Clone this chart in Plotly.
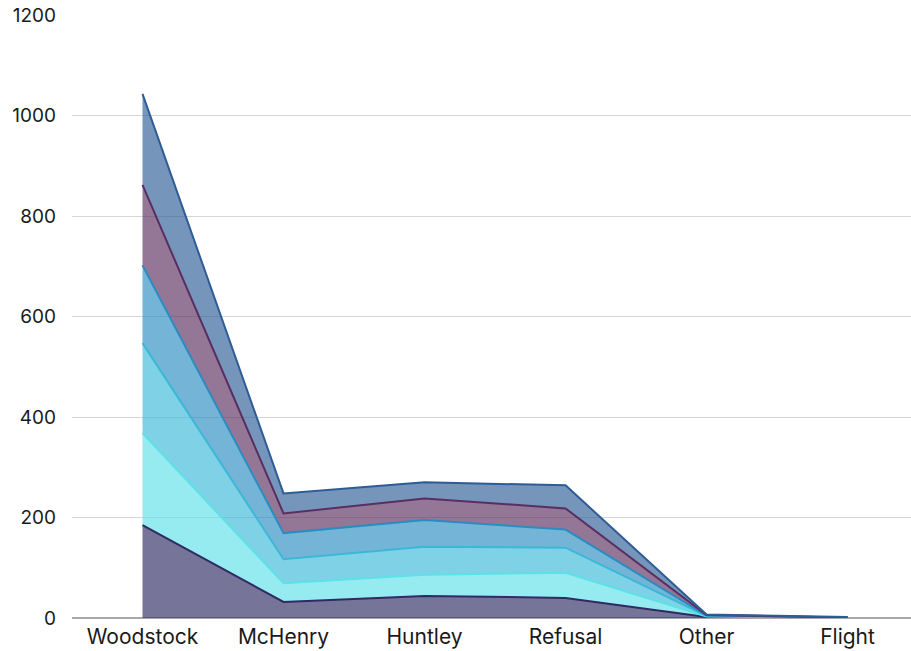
import plotly.graph_objects as go

# Categories along the x axis
categories = ["Woodstock", "McHenry", "Huntley", "Refusal", "Other", "Flight"]

# Stacked series values (bottom to top)
series_a = [185, 32, 44, 40, 2, 1]
series_b = [183, 37, 42, 50, 1, 0]
series_c = [179, 48, 56, 50, 1, 0]
series_d = [155, 52, 53, 36, 1, 0]
series_e = [160, 39, 43, 42, 1, 0]
series_f = [181, 40, 32, 46, 1, 1]

y_ticks = [0, 200, 400, 600, 800, 1000, 1200]

series = [
    ("A", series_a, (46, 42, 99)),
    ("B", series_b, (92, 225, 230)),
    ("C", series_c, (59, 184, 216)),
    ("D", series_d, (42, 140, 192)),
    ("E", series_e, (90, 46, 96)),
    ("F", series_f, (45, 92, 150)),
]

fig = go.Figure()
for name, vals, (r, g, b) in series:
    fig.add_trace(go.Scatter(
        x=categories,
        y=vals,
        name=name,
        mode="lines",
        stackgroup="one",
        line=dict(color=f"rgb({r},{g},{b})", width=2),
        fillcolor=f"rgba({r},{g},{b},0.65)",
    ))

fig.update_layout(
    width=911,
    height=651,
    margin=dict(l=72, r=0, t=15, b=33),
    paper_bgcolor="white",
    plot_bgcolor="white",
    showlegend=False,
    font=dict(family="Inter, Open Sans, sans-serif", size=20, color="#1a1a1a"),
    xaxis=dict(
        range=[-0.5, 5.45],
        showgrid=False,
        zeroline=False,
        showline=False,
        ticks="",
        ticklabelstandoff=4,
        tickfont=dict(size=21),
    ),
    yaxis=dict(
        range=[0, 1200],
        tickvals=y_ticks,
        showgrid=True,
        gridcolor="#d6d6d6",
        gridwidth=1,
        zeroline=True,
        zerolinecolor="#a8a8a8",
        zerolinewidth=1.5,
        showline=False,
        ticks="",
        ticklabelstandoff=15,
        tickfont=dict(size=19),
    ),
)

fig.write_html("out.html")
